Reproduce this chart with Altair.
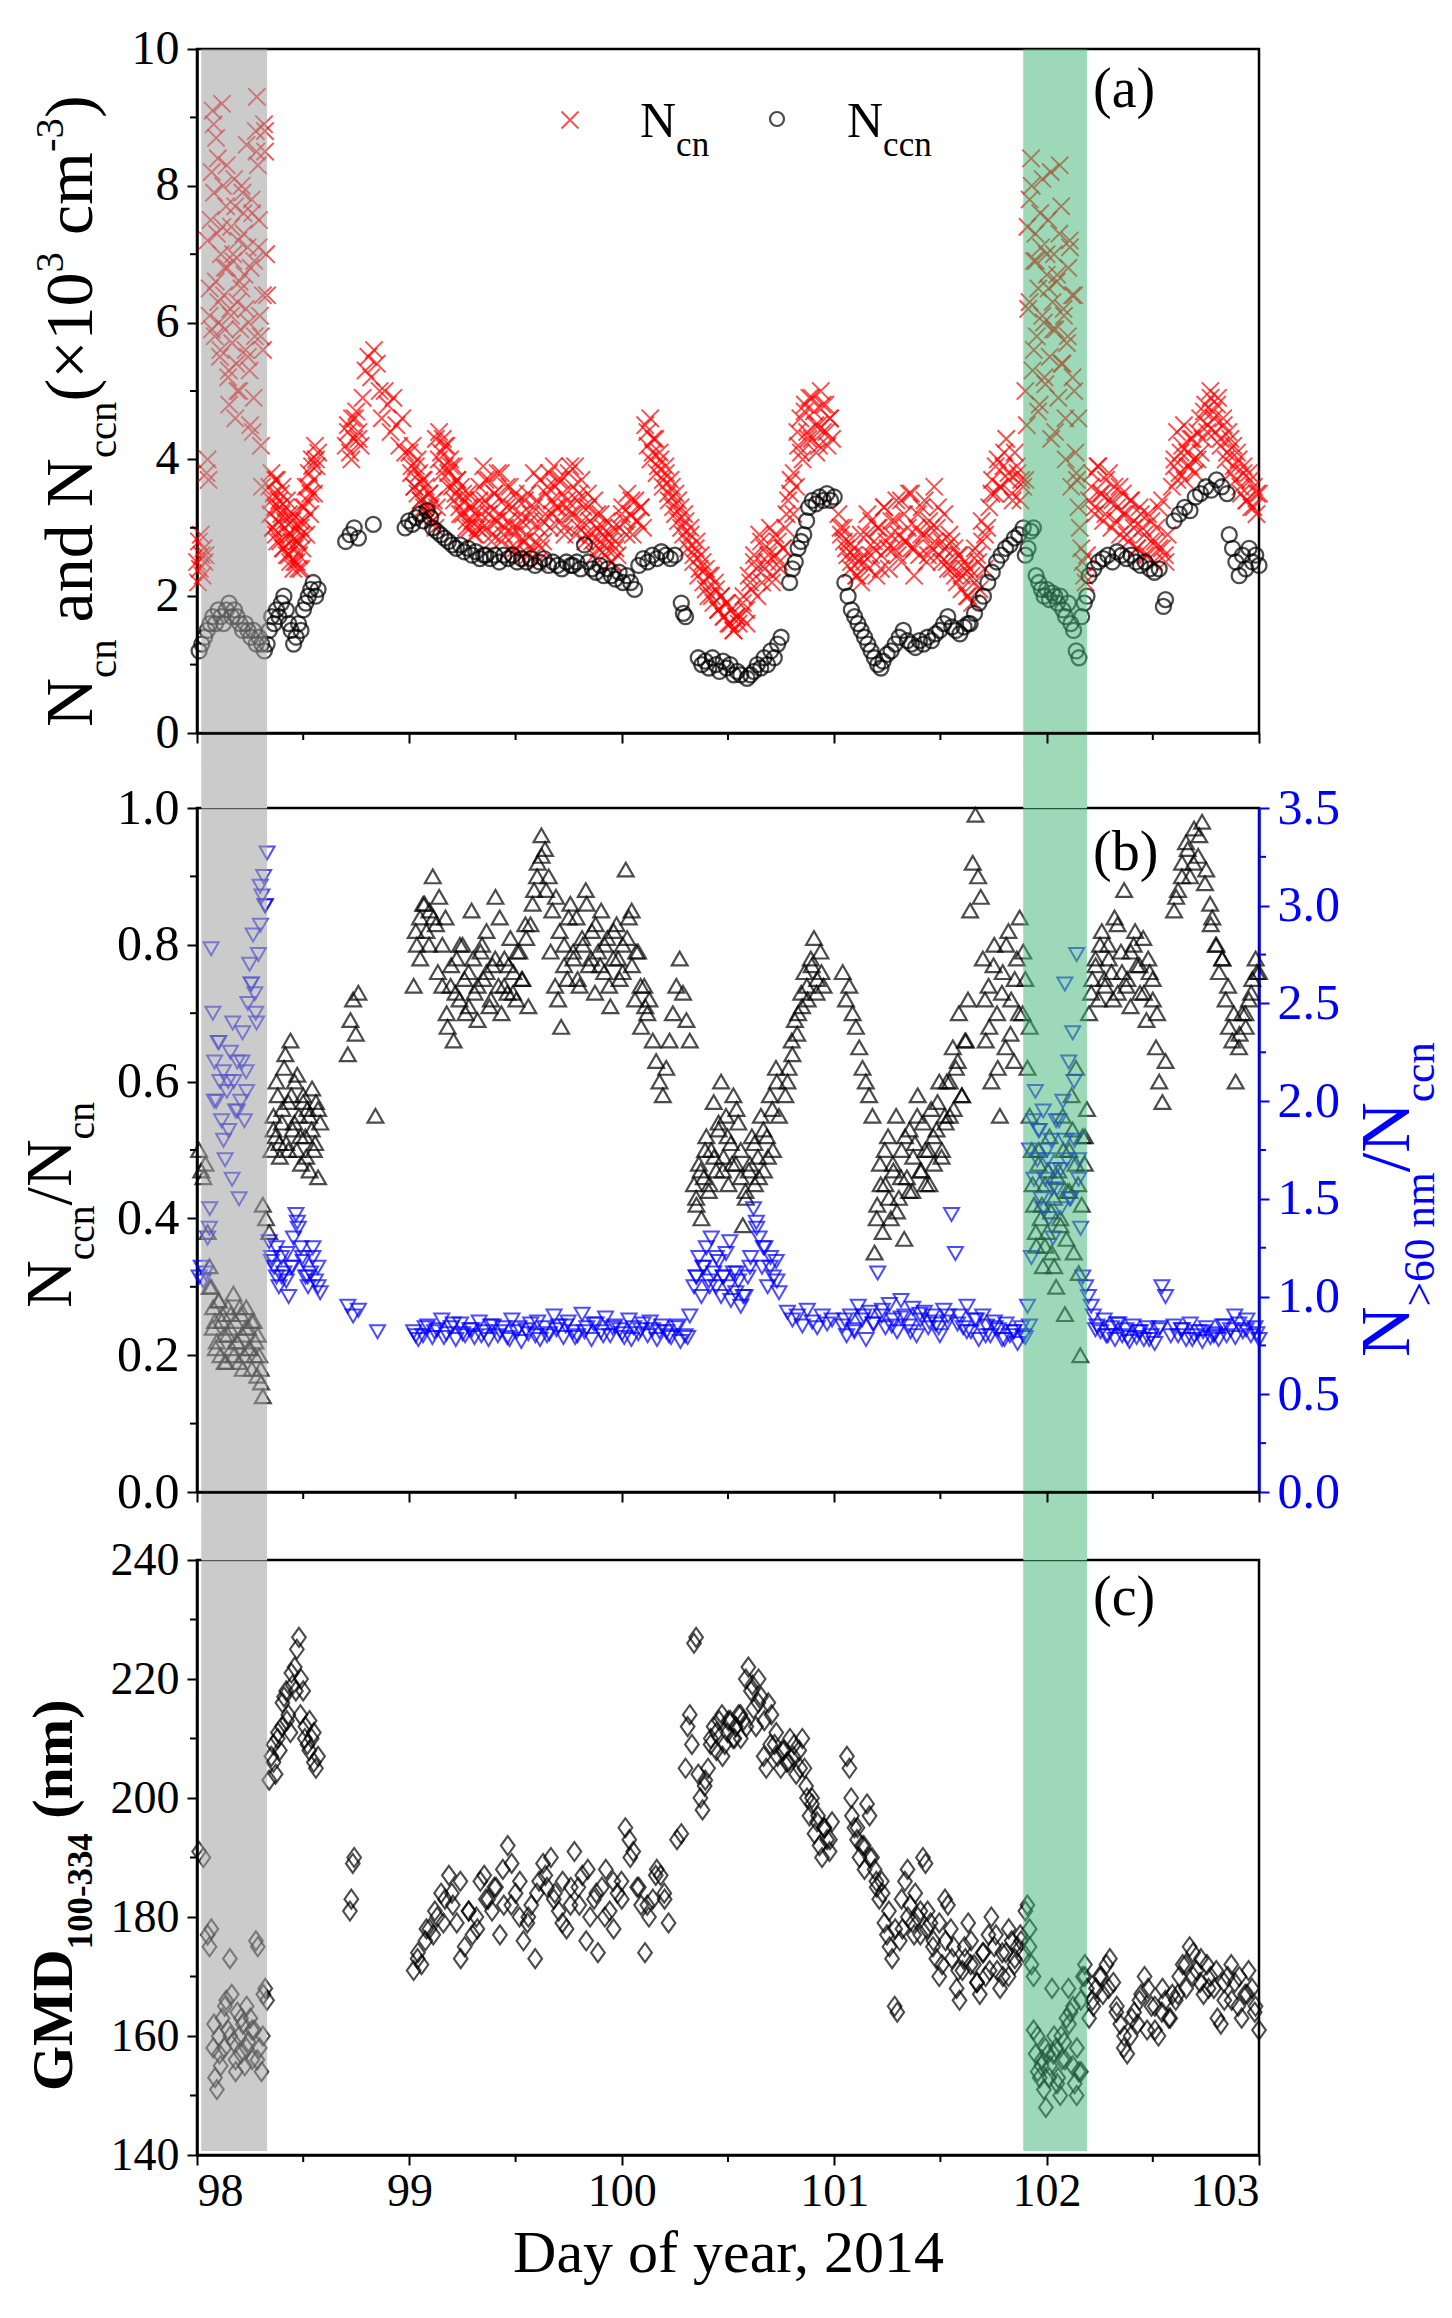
import altair as alt
import pandas as pd

# values: (first day, last day, samples evenly spaced in between)
NCN = [
    (98.00, 98.04, [2.5, 2.2, 2.8, 2.4, 2.9, 2.6, 2.3, 2.7, 2.5, 2.6]),
    (98.045, 98.33, [3.8, 4.0, 3.7, 6.1, 7.5, 8.2, 9.1, 8.9, 5.8, 6.6, 7.3, 8.4, 6.0, 5.5, 7.0, 9.2, 8.0, 6.4, 5.9, 7.7,
                     6.8, 5.2, 4.8, 6.2, 7.4, 5.7, 6.9, 8.1, 4.6, 5.4, 6.3, 7.2, 5.0, 5.9, 6.5, 7.9, 7.6, 6.7, 5.6, 8.6,
                     7.1, 6.0, 5.3, 6.8, 7.8, 4.4, 4.9, 5.8, 8.8, 9.3, 8.3, 7.5, 6.1, 4.2, 3.6, 5.6, 8.9, 8.5, 7.0, 6.4]),
    (98.05, 98.32, [7.2, 6.5, 5.9, 7.9, 8.7, 6.3, 5.6, 7.4, 6.8, 8.3, 5.3, 6.1, 7.0, 7.7, 5.0, 6.6, 8.0, 7.3, 6.2, 5.5,
                    4.5, 7.6, 6.9, 8.5, 7.1, 5.8, 6.4, 8.8]),
    (98.34, 98.49, [3.6, 3.2, 3.8, 3.0, 3.5, 3.3, 2.9, 3.7, 3.1, 3.4, 2.8, 3.2, 3.6, 2.7, 3.0, 3.3, 2.6, 2.9, 3.2, 2.5,
                    2.8, 3.1, 2.4, 2.7, 3.0, 2.5, 2.8, 2.6, 3.1, 2.4]),
    (98.49, 98.57, [2.9, 3.3, 3.1, 3.6, 3.4, 3.8, 3.5, 4.0, 3.7, 4.2, 3.9, 4.1]),
    (98.35, 98.56, [3.4, 3.0, 3.7, 2.8, 3.3, 3.5, 2.7, 3.1, 3.4, 2.6, 2.9, 3.2, 2.5, 2.8, 2.4, 3.0, 2.7, 3.3, 2.9, 3.6,
                    3.2, 3.9, 3.5, 4.0]),
    (98.70, 98.77, [4.2, 4.5, 4.1, 4.6, 4.3, 4.7, 4.4, 4.2]),
    (98.71, 98.76, [4.4, 4.0, 4.6, 4.3]),
    (98.78, 98.86, [4.9, 5.3, 5.5, 5.2, 5.6, 5.4, 5.0]),
    (98.87, 98.98, [4.6, 5.0, 4.8, 4.4, 4.9, 4.5, 4.2, 4.6, 4.1]),
    (99.00, 99.13, [4.1, 3.8, 4.2, 3.6, 3.9, 3.5, 3.8, 3.4, 3.7, 3.3, 3.6, 3.2, 3.5, 3.3, 3.1, 3.4, 3.0, 3.3]),
    (99.14, 99.32, [4.4, 4.1, 4.3, 3.9, 4.2, 3.8, 4.0, 3.6, 3.9, 3.5, 3.7, 3.3, 3.6, 3.2, 3.4, 3.1, 3.5, 3.0, 3.3, 2.9,
                    3.2, 3.0]),
    (99.01, 99.31, [3.9, 3.6, 4.0, 3.4, 3.7, 3.2, 3.5, 3.1, 4.3, 4.0, 3.8, 4.2, 3.6, 3.9, 3.4, 3.7, 3.2, 3.5, 3.0, 3.3,
                    3.1, 2.9]),
    (99.33, 99.62, [3.6, 3.2, 3.9, 3.4, 3.0, 3.7, 3.3, 2.9, 3.5, 3.1, 3.8, 3.2, 2.8, 3.4, 3.0, 3.6, 3.1, 2.7, 3.3, 2.9,
                    3.5, 3.0, 2.6, 3.2, 2.8, 3.4, 2.9, 2.6, 3.1, 2.7, 3.3, 2.8, 2.5, 3.0, 2.7]),
    (99.63, 99.98, [2.8, 3.2, 3.6, 3.0, 3.4, 3.9, 3.3, 3.7, 3.1, 3.5, 2.9, 3.3, 3.8, 3.2, 3.6, 3.9, 3.4, 3.0, 3.7, 3.3,
                    2.9, 3.5, 3.1, 2.8, 3.4, 3.0, 2.7, 3.2, 2.9, 2.6, 3.1, 2.8, 2.5, 3.0, 2.7, 2.6]),
    (99.33, 99.97, [3.4, 3.0, 3.7, 3.2, 2.8, 3.5, 3.1, 3.8, 2.9, 3.3, 3.6, 3.0, 2.7, 3.4, 3.1, 2.8, 3.5, 3.2, 3.8, 3.4,
                    3.7, 3.1, 3.5, 3.8, 3.2, 3.6, 3.3, 3.7, 3.0, 3.4, 3.9, 3.2, 2.9, 3.5, 3.1, 2.8, 3.3, 2.9, 2.6, 3.2,
                    2.8, 3.0, 2.7, 2.9, 2.5, 2.8]),
    (99.99, 100.10, [3.0, 3.3, 3.1, 3.5, 3.2, 2.9, 3.4, 3.1, 3.3, 3.0]),
    (100.00, 100.09, [3.2, 2.9, 3.4, 3.1, 3.3]),
    (100.11, 100.55, [4.5, 4.2, 4.6, 4.1, 4.3, 3.9, 4.0, 3.7, 3.9, 3.5, 3.7, 3.3, 3.5, 3.1, 3.3, 2.9, 3.1, 2.7, 2.9, 2.5,
                      2.7, 2.3, 2.6, 2.2, 2.4, 2.0, 2.3, 1.9, 2.1, 1.8, 2.0, 1.7, 1.9, 1.6, 1.8, 1.5, 1.7, 1.6]),
    (100.12, 100.54, [4.4, 4.0, 4.3, 3.8, 4.1, 3.6, 3.8, 3.4, 3.6, 3.2, 3.4, 3.0, 3.2, 2.8, 3.0, 2.6, 2.8, 2.4, 2.5, 2.1,
                      2.3, 2.0, 2.2, 1.8, 2.0, 1.7, 1.9, 1.6, 1.5, 1.7]),
    (100.56, 100.76, [1.7, 2.0, 1.8, 2.3, 2.1, 2.6, 2.4, 2.9, 2.2, 2.7, 2.5, 3.0, 2.3, 2.6, 2.8, 2.4, 2.7]),
    (100.77, 100.82, [3.0, 3.4, 3.7, 3.2, 3.6]),
    (100.83, 100.99, [4.2, 4.6, 4.0, 4.8, 4.4, 4.9, 4.3, 4.7, 4.1, 4.5, 5.0, 4.4, 4.8, 4.2, 4.6, 4.3]),
    (100.57, 100.98, [1.9, 1.6, 2.2, 2.5, 2.0, 2.8, 2.4, 2.6, 2.2, 2.9, 2.5, 2.7, 3.2, 3.5, 3.8, 4.4, 4.1, 4.7, 4.3, 4.9,
                      4.5, 4.2, 4.8, 4.4, 4.6]),
    (101.02, 101.72, [3.2, 2.9, 3.0, 2.7, 2.8, 2.5, 2.6, 2.3, 2.5, 2.2, 2.6, 2.9, 2.4, 3.1, 2.7, 2.3, 3.0, 2.6, 3.3, 2.8,
                      2.4, 3.1, 2.7, 3.4, 2.9, 2.5, 3.2, 2.8, 3.5, 2.7, 2.3, 3.0, 2.6, 3.3, 2.9, 2.5, 3.1, 2.7, 3.6, 3.0,
                      2.6, 2.8, 3.2, 2.5, 2.9, 2.4, 2.7, 2.2, 2.6, 2.3, 2.5, 2.0, 2.4, 1.9, 2.2, 2.6, 2.1, 2.8, 2.4, 3.0]),
    (101.03, 101.71, [3.0, 2.8, 2.6, 2.4, 2.7, 2.3, 2.9, 2.5, 3.2, 2.6, 2.8, 3.0, 2.4, 3.3, 2.7, 2.9, 3.1, 2.6, 3.4, 2.8,
                      3.0, 3.5, 2.7, 3.2, 2.9, 3.4, 2.6, 3.0, 2.8, 3.3, 2.5, 2.7, 2.4, 2.8, 2.3, 2.6, 2.1, 2.4, 2.0, 2.3,
                      2.7, 2.5, 3.1, 2.9]),
    (101.73, 101.89, [3.3, 3.7, 3.5, 4.0, 3.6, 3.9, 4.3, 3.7, 3.5, 4.1, 3.8, 3.4, 3.6]),
    (101.74, 101.88, [3.5, 3.9, 3.6, 4.1, 3.8, 3.4, 3.9, 3.7]),
    (101.90, 102.19, [3.7, 4.5, 6.2, 7.8, 8.4, 5.3, 6.9, 7.3, 5.8, 6.5, 4.8, 7.1, 8.1, 6.0, 5.1, 6.7, 7.5, 5.5, 4.3, 6.3,
                      7.0, 5.9, 6.6, 4.9, 8.3, 7.7, 5.4, 6.1, 4.6, 5.7, 6.8, 7.2, 3.6, 5.2, 6.4, 4.1, 3.7, 3.3, 3.0, 2.7,
                      2.5, 2.3, 2.2, 2.6]),
    (101.90, 102.15, [5.0, 7.4, 6.3, 8.0, 5.6, 6.9, 4.7, 7.6, 6.1, 5.2, 7.0, 6.5, 8.2, 5.9, 4.4, 6.7, 7.3, 5.4, 6.2, 4.0,
                      5.8, 7.1, 6.4, 5.0, 3.8, 4.6]),
    (102.20, 102.57, [3.4, 3.8, 3.2, 3.9, 3.5, 3.1, 3.7, 3.4, 3.0, 3.6, 3.3, 2.9, 3.5, 3.2, 2.8, 3.4, 3.1, 2.7, 3.3, 3.0,
                      2.6, 3.2, 2.8, 2.5, 3.0, 2.7, 3.4, 2.6, 2.9]),
    (102.21, 102.56, [3.6, 3.3, 3.9, 3.5, 3.2, 3.8, 3.4, 3.1, 3.6, 3.2, 2.9, 3.4, 3.0, 2.7, 3.2, 2.9, 2.6, 3.1, 2.8, 3.3,
                      2.7, 2.5]),
    (102.59, 103.00, [3.6, 4.0, 4.4, 3.8, 4.2, 3.7, 4.1, 3.9, 4.3, 3.8, 4.0, 4.6, 4.3, 4.8, 4.5, 5.0, 4.7, 4.4, 4.9, 4.2,
                      4.6, 4.0, 4.4, 3.8, 4.2, 3.7, 4.0, 3.5, 3.9, 3.4, 3.8, 3.3, 3.6, 3.2, 3.5]),
    (102.60, 102.99, [3.9, 3.7, 4.1, 4.5, 3.9, 4.3, 4.0, 4.4, 4.1, 4.7, 4.4, 4.9, 4.6, 4.8, 4.3, 4.5, 4.1, 4.3, 3.9, 4.1,
                      3.6, 3.8, 3.4, 3.7, 3.3, 3.5]),
]

NCCN = [
    (98.01, 98.33, [1.2, 1.3, 1.4, 1.5, 1.6, 1.7, 1.6, 1.8, 1.7, 1.6, 1.8, 1.9, 1.7, 1.8, 1.7, 1.6, 1.5, 1.6, 1.5, 1.4,
                    1.5, 1.3, 1.4, 1.3, 1.2, 1.3]),
    (98.34, 98.57, [1.5, 1.7, 1.6, 1.8, 1.7, 1.9, 2.0, 1.8, 1.6, 1.5, 1.3, 1.4, 1.6, 1.5, 1.8, 1.9, 2.0, 2.1, 2.2, 2.0,
                    2.1]),
    (98.70, 98.76, [2.8, 2.9, 3.0, 2.85]),
    (98.83, 98.83, [3.05]),
    (98.98, 99.10, [3.0, 3.1, 3.05, 3.15, 3.2, 3.1, 3.25, 3.15]),
    (99.11, 99.35, [3.0, 2.95, 2.9, 2.85, 2.8, 2.75, 2.7, 2.75, 2.65, 2.7, 2.6, 2.65, 2.55, 2.6]),
    (99.36, 99.76, [2.6, 2.55, 2.6, 2.5, 2.6, 2.55, 2.6, 2.5, 2.55, 2.5, 2.55, 2.45, 2.5, 2.55, 2.45, 2.5, 2.45, 2.4,
                    2.5, 2.45]),
    (99.77, 100.06, [2.45, 2.5, 2.4, 2.75, 2.5, 2.4, 2.35, 2.45, 2.3, 2.4, 2.3, 2.25, 2.35, 2.2, 2.3, 2.2, 2.1]),
    (100.08, 100.25, [2.45, 2.55, 2.5, 2.6, 2.55, 2.65, 2.6, 2.55, 2.6]),
    (100.28, 100.30, [1.9, 1.75, 1.7]),
    (100.36, 100.56, [1.1, 1.0, 1.05, 0.95, 1.1, 1.0, 0.9, 1.05, 0.95, 1.0, 0.85, 0.9, 0.85]),
    (100.59, 100.75, [0.8, 0.85, 0.9, 1.0, 0.95, 1.1, 1.0, 1.2, 1.1, 1.3, 1.4]),
    (100.79, 100.87, [2.2, 2.4, 2.5, 2.7, 2.8, 2.9, 3.1]),
    (100.88, 101.00, [3.3, 3.4, 3.35, 3.45, 3.4, 3.5, 3.4, 3.45]),
    (101.05, 101.22, [2.2, 2.0, 1.8, 1.7, 1.6, 1.5, 1.4, 1.3, 1.2, 1.1, 1.0, 0.95]),
    (101.23, 101.63, [1.05, 1.15, 1.2, 1.3, 1.4, 1.5, 1.35, 1.3, 1.25, 1.35, 1.3, 1.4, 1.35, 1.45, 1.5, 1.6, 1.7, 1.55,
                      1.5, 1.45, 1.55, 1.6]),
    (101.64, 101.89, [1.6, 1.75, 1.9, 2.0, 2.2, 2.35, 2.5, 2.6, 2.7, 2.75, 2.85, 2.9, 3.0]),
    (101.90, 102.19, [2.6, 2.7, 2.95, 3.0, 2.3, 2.2, 2.1, 2.0, 2.1, 1.95, 2.05, 2.0, 1.9, 2.0, 1.8, 1.7, 1.9, 1.6, 1.5,
                      1.2, 1.1, 1.7, 1.9, 2.0]),
    (102.20, 102.53, [2.3, 2.4, 2.5, 2.55, 2.6, 2.5, 2.65, 2.6, 2.55, 2.6, 2.5, 2.45, 2.5, 2.4, 2.35, 2.4]),
    (102.55, 102.56, [1.85, 1.95]),
    (102.60, 102.85, [3.1, 3.2, 3.3, 3.25, 3.45, 3.5, 3.6, 3.55, 3.7, 3.6, 3.5]),
    (102.86, 103.00, [2.9, 2.7, 2.5, 2.3, 2.6, 2.4, 2.7, 2.5, 2.6, 2.45]),
]

RATIO = [
    (98.01, 98.04, [0.5, 0.47, 0.46, 0.48]),
    (98.05, 98.31, [0.38, 0.33, 0.3, 0.27, 0.25, 0.22, 0.28, 0.2, 0.26, 0.23, 0.19, 0.27, 0.24, 0.21, 0.29, 0.25, 0.22,
                    0.19, 0.26, 0.23, 0.2, 0.27, 0.24, 0.21, 0.18, 0.25, 0.22, 0.17, 0.2, 0.16, 0.14]),
    (98.06, 98.30, [0.3, 0.24, 0.21, 0.28, 0.25, 0.19, 0.23, 0.26, 0.2, 0.22, 0.27, 0.18, 0.24, 0.21, 0.25, 0.2, 0.23,
                    0.18]),
    (98.31, 98.34, [0.42, 0.4, 0.38]),
    (98.35, 98.58, [0.5, 0.55, 0.52, 0.58, 0.49, 0.54, 0.62, 0.51, 0.57, 0.66, 0.53, 0.6, 0.5, 0.55, 0.48, 0.58, 0.52,
                    0.56, 0.47, 0.53, 0.5, 0.57, 0.46, 0.54]),
    (98.36, 98.57, [0.53, 0.6, 0.51, 0.56, 0.64, 0.5, 0.58, 0.54, 0.61, 0.52, 0.57, 0.49, 0.55, 0.59, 0.51, 0.56]),
    (98.71, 98.76, [0.64, 0.69, 0.72, 0.67, 0.73]),
    (98.84, 98.84, [0.55]),
    (99.02, 99.17, [0.74, 0.8, 0.84, 0.86, 0.82, 0.85, 0.9, 0.83, 0.87, 0.8, 0.84]),
    (99.18, 99.56, [0.68, 0.74, 0.66, 0.78, 0.72, 0.8, 0.7, 0.76, 0.85, 0.73, 0.69, 0.79, 0.75, 0.82, 0.71, 0.77, 0.87,
                    0.74, 0.7, 0.78, 0.73, 0.81, 0.76, 0.72, 0.79, 0.75, 0.83, 0.71]),
    (99.03, 99.55, [0.82, 0.78, 0.86, 0.8, 0.84, 0.76, 0.74, 0.7, 0.77, 0.73, 0.8, 0.75, 0.71, 0.78, 0.74, 0.8, 0.76,
                    0.72, 0.78, 0.84, 0.74, 0.77, 0.73, 0.79, 0.75, 0.81]),
    (99.57, 99.69, [0.83, 0.88, 0.92, 0.96, 0.94, 0.9, 0.85, 0.87]),
    (99.70, 100.12, [0.72, 0.68, 0.8, 0.75, 0.86, 0.78, 0.84, 0.74, 0.8, 0.88, 0.77, 0.82, 0.73, 0.79, 0.85, 0.76, 0.81,
                     0.71, 0.78, 0.83, 0.75, 0.8, 0.91, 0.84, 0.77, 0.72, 0.79, 0.68, 0.74, 0.7]),
    (99.58, 100.11, [0.86, 0.9, 0.93, 0.88, 0.79, 0.74, 0.82, 0.77, 0.84, 0.79, 0.75, 0.81, 0.86, 0.78, 0.83, 0.77, 0.8,
                     0.74, 0.82, 0.78, 0.76, 0.81, 0.85, 0.79, 0.74, 0.71]),
    (100.13, 100.32, [0.72, 0.66, 0.63, 0.6, 0.58, 0.62, 0.66, 0.7, 0.74, 0.78, 0.73, 0.69, 0.66]),
    (100.34, 100.56, [0.45, 0.42, 0.48, 0.4, 0.46, 0.52, 0.44, 0.5, 0.57, 0.47, 0.53, 0.6, 0.49, 0.55, 0.45, 0.51, 0.58,
                      0.48, 0.54, 0.5]),
    (100.57, 100.74, [0.39, 0.43, 0.47, 0.52, 0.45, 0.49, 0.55, 0.47, 0.52, 0.58, 0.5, 0.62, 0.55]),
    (100.35, 100.73, [0.43, 0.47, 0.5, 0.45, 0.49, 0.54, 0.47, 0.52, 0.48, 0.56, 0.46, 0.44, 0.48, 0.51, 0.46, 0.53,
                      0.49, 0.56, 0.6]),
    (100.77, 100.95, [0.58, 0.62, 0.66, 0.69, 0.7, 0.73, 0.76, 0.72, 0.78, 0.81, 0.75, 0.79, 0.74]),
    (100.78, 100.94, [0.6, 0.64, 0.67, 0.71, 0.74, 0.77, 0.73, 0.76]),
    (101.04, 101.18, [0.76, 0.72, 0.74, 0.7, 0.68, 0.65, 0.62, 0.6, 0.58, 0.55]),
    (101.19, 101.52, [0.35, 0.42, 0.48, 0.38, 0.45, 0.52, 0.4, 0.47, 0.55, 0.43, 0.5, 0.37, 0.46, 0.53, 0.44, 0.51, 0.58,
                      0.47, 0.54, 0.45, 0.5, 0.56, 0.48, 0.53, 0.6, 0.5, 0.55]),
    (101.20, 101.62, [0.4, 0.45, 0.5, 0.43, 0.48, 0.41, 0.46, 0.52, 0.44, 0.49, 0.55, 0.47, 0.5, 0.45, 0.52, 0.57, 0.49,
                      0.54, 0.6, 0.56, 0.63, 0.58, 0.66]),
    (101.53, 101.63, [0.6, 0.55, 0.65, 0.62, 0.7, 0.58, 0.66, 0.72]),
    (101.64, 101.69, [0.85, 0.92, 0.99, 0.9, 0.87]),
    (101.70, 101.90, [0.78, 0.66, 0.74, 0.6, 0.8, 0.7, 0.55, 0.76, 0.65, 0.82, 0.72, 0.63, 0.78, 0.84, 0.7, 0.75]),
    (101.71, 101.89, [0.72, 0.68, 0.77, 0.62, 0.73, 0.8, 0.67, 0.75, 0.7, 0.79]),
    (101.91, 102.19, [0.62, 0.68, 0.5, 0.42, 0.36, 0.48, 0.4, 0.33, 0.45, 0.38, 0.52, 0.35, 0.43, 0.3, 0.47, 0.39, 0.55,
                      0.26, 0.44, 0.5, 0.58, 0.35, 0.62, 0.45, 0.2, 0.52, 0.48, 0.56]),
    (101.92, 102.18, [0.55, 0.45, 0.38, 0.5, 0.42, 0.36, 0.47, 0.41, 0.33, 0.46, 0.4, 0.5, 0.37, 0.44, 0.53, 0.48, 0.32,
                      0.42, 0.52]),
    (102.20, 102.56, [0.7, 0.75, 0.78, 0.72, 0.82, 0.74, 0.8, 0.76, 0.84, 0.73, 0.79, 0.88, 0.75, 0.71, 0.8, 0.77, 0.73,
                      0.81, 0.69, 0.76, 0.72, 0.65, 0.6, 0.57, 0.63]),
    (102.21, 102.52, [0.73, 0.77, 0.8, 0.75, 0.78, 0.72, 0.83, 0.76, 0.74, 0.79, 0.82, 0.77, 0.73, 0.78, 0.75, 0.7]),
    (102.60, 102.77, [0.85, 0.88, 0.92, 0.95, 0.9, 0.97, 0.93, 0.98, 0.91, 0.86]),
    (102.78, 103.00, [0.84, 0.8, 0.76, 0.78, 0.72, 0.68, 0.66, 0.6, 0.65, 0.7, 0.68, 0.72, 0.75, 0.78, 0.76]),
    (102.61, 102.99, [0.87, 0.9, 0.94, 0.92, 0.96, 0.89, 0.83, 0.8, 0.78, 0.74, 0.7, 0.67, 0.7, 0.73, 0.76]),
]

RATIO60 = [
    (98.01, 98.04, [1.1, 1.15, 1.08, 1.12]),
    (98.05, 98.33, [1.3, 1.35, 2.78, 2.45, 2.2, 2.0, 2.3, 2.1, 1.9, 2.15, 1.7, 2.05, 1.85, 2.25, 1.6, 2.1, 1.95, 2.2,
                    1.5, 2.0, 2.35, 1.9, 2.15, 2.5, 2.7, 2.6, 2.85, 2.55, 2.4, 2.75, 3.1, 3.05, 3.15, 3.0, 3.27]),
    (98.06, 98.32, [1.45, 2.0, 2.3, 1.8, 2.1, 2.4, 1.95, 2.2, 2.05, 2.6, 2.45, 2.9, 3.0]),
    (98.34, 98.58, [1.28, 1.2, 1.15, 1.1, 1.05, 1.2, 1.12, 1.08, 1.0, 1.15, 1.3, 1.42, 1.35, 1.25, 1.18, 1.1, 1.05,
                    1.12, 1.2, 1.08, 1.15, 1.02]),
    (98.35, 98.57, [1.18, 1.25, 1.1, 1.22, 1.15, 1.38, 1.2, 1.1, 1.25, 1.05]),
    (98.71, 98.76, [0.95, 0.9, 0.93]),
    (98.85, 98.85, [0.82]),
    (99.02, 100.32, [0.82, 0.78, 0.8, 0.85, 0.79, 0.83, 0.88, 0.81, 0.84, 0.78, 0.86, 0.8, 0.83, 0.79, 0.87, 0.82, 0.78,
                     0.85, 0.8, 0.84, 0.79, 0.88, 0.82, 0.77, 0.83, 0.86, 0.8, 0.78, 0.84, 0.81, 0.9, 0.85, 0.79, 0.87,
                     0.82, 0.8, 0.91, 0.84, 0.78, 0.86, 0.82, 0.89, 0.8, 0.85, 0.83, 0.79, 0.88, 0.84, 0.81, 0.86, 0.8,
                     0.83, 0.78, 0.85, 0.82, 0.79, 0.84, 0.77, 0.8, 0.9]),
    (99.03, 100.31, [0.8, 0.84, 0.82, 0.79, 0.86, 0.81, 0.83, 0.8, 0.85, 0.82, 0.78, 0.84, 0.81, 0.87, 0.8, 0.83, 0.85,
                     0.79, 0.82, 0.86, 0.8, 0.84, 0.81, 0.78, 0.83, 0.87, 0.82, 0.8, 0.85, 0.79]),
    (100.34, 100.56, [1.05, 1.1, 1.2, 1.0, 1.15, 1.25, 1.08, 1.3, 1.12, 1.05, 1.18, 1.0, 1.1, 1.22, 1.05, 0.98, 1.12,
                      1.02, 1.08, 0.95]),
    (100.58, 100.74, [1.0, 1.1, 1.2, 1.45, 1.38, 1.3, 1.15, 1.25, 1.05, 1.2, 1.1, 1.18, 1.02]),
    (100.35, 100.73, [1.1, 1.15, 1.05, 1.2, 1.1, 1.28, 1.12, 1.0, 1.15, 1.35, 1.25, 1.15, 1.08]),
    (100.78, 100.99, [0.92, 0.88, 0.9, 0.85, 0.93, 0.87, 0.84, 0.9, 0.86, 0.88]),
    (101.04, 101.90, [0.85, 0.8, 0.9, 0.82, 0.95, 0.88, 0.78, 0.92, 0.86, 1.12, 0.9, 0.84, 0.96, 0.88, 0.82, 0.98, 0.9,
                      0.85, 0.94, 0.8, 0.88, 0.92, 0.84, 0.9, 0.86, 0.8, 0.93, 0.87, 1.42, 1.22, 0.9, 0.84, 0.95, 0.82,
                      0.88, 0.78, 0.9, 0.85, 0.8, 0.87, 0.83, 0.78, 0.86, 0.8, 0.82, 0.76, 0.84, 0.79]),
    (101.05, 101.89, [0.88, 0.83, 0.9, 0.86, 0.93, 0.85, 0.89, 0.82, 0.91, 0.87, 0.84, 0.9, 0.86, 0.82, 0.88, 0.8, 0.84,
                      0.78, 0.82, 0.8]),
    (101.91, 102.16, [0.95, 0.85, 1.2, 1.9, 2.05, 1.7, 1.85, 1.5, 1.95, 1.6, 1.75, 1.4, 1.8, 1.3, 1.65, 1.55, 1.9, 1.45,
                      2.0, 2.6, 1.7, 2.2, 1.5, 2.35, 1.8, 2.75, 1.6, 1.35]),
    (101.92, 102.15, [1.75, 1.6, 1.85, 1.45, 1.7, 1.55, 1.9, 1.65, 1.8, 1.5, 2.1, 1.7]),
    (102.17, 102.21, [1.1, 1.05, 1.0, 0.95]),
    (102.22, 102.56, [0.9, 0.85, 0.82, 0.88, 0.8, 0.84, 0.78, 0.86, 0.8, 0.83, 0.77, 0.85, 0.79, 0.82, 0.78, 0.84, 0.8,
                      0.76, 0.83, 1.05, 1.0]),
    (102.60, 103.00, [0.85, 0.8, 0.83, 0.78, 0.86, 0.8, 0.82, 0.77, 0.84, 0.79, 0.81, 0.78, 0.85, 0.8, 0.83, 0.9, 0.86,
                      0.82, 0.88, 0.8, 0.84, 0.78]),
    (102.23, 102.99, [0.83, 0.8, 0.86, 0.79, 0.82, 0.78, 0.84, 0.8, 0.83, 0.78, 0.82, 0.8, 0.85, 0.79, 0.83, 0.81]),
]

GMD = [
    (98.01, 98.03, [191, 190]),
    (98.05, 98.33, [177, 175, 178, 158, 153, 151, 160, 155, 163, 158, 166, 161, 173, 167, 159, 156, 164, 160, 157, 162,
                    155, 165, 159, 163, 156, 161, 176, 175, 158, 154, 167, 168, 166]),
    (98.08, 98.31, [162, 157, 165, 160, 154, 163, 158, 161, 156, 160]),
    (98.34, 98.57, [203, 207, 209, 204, 210, 208, 212, 217, 218, 214, 211, 219, 222, 225, 227, 220, 218, 212, 209, 213,
                    210, 206, 205, 207]),
    (98.36, 98.55, [206, 211, 216, 213, 221, 218, 214, 210, 208, 211]),
    (98.72, 98.74, [181, 183, 189, 190]),
    (99.02, 100.22, [171, 173, 172, 176, 178, 177, 180, 184, 183, 187, 182, 179, 173, 175, 181, 177, 180, 186, 187, 183,
                     181, 185, 177, 182, 192, 189, 184, 180, 176, 179, 182, 173, 186, 189, 185, 190, 184, 181, 186, 178,
                     182, 191, 185, 187, 176, 180, 183, 174, 185, 188, 181, 178, 184, 186, 195, 193, 191, 185, 182, 174,
                     180, 183, 188, 187, 183, 179]),
    (99.04, 100.20, [174, 178, 181, 179, 184, 186, 181, 178, 183, 185, 188, 182, 186, 180, 184, 187, 183, 179, 185, 182,
                     188, 184, 180, 186, 183, 190, 185, 182, 187, 184]),
    (100.26, 100.28, [193, 194]),
    (100.30, 100.37, [205, 212, 214, 209, 226, 227, 204, 200]),
    (100.38, 100.55, [198, 203, 205, 210, 212, 208, 213, 214, 209, 211, 213, 210, 212, 214]),
    (100.56, 100.68, [210, 213, 220, 222, 218, 215, 212, 220, 217, 207, 205]),
    (100.69, 100.85, [216, 214, 209, 207, 205, 208, 206, 210, 207, 204, 208, 210]),
    (100.86, 100.99, [205, 200, 197, 199, 194, 196, 192, 190, 195, 193, 191, 196]),
    (100.39, 100.98, [202, 209, 211, 207, 213, 210, 214, 212, 219, 216, 213, 209, 211, 208, 206, 209, 205, 202, 200, 197,
                      195, 193]),
    (101.06, 101.19, [207, 205, 197, 195, 193, 190, 192, 188, 199, 197, 190, 188]),
    (101.20, 101.43, [185, 183, 186, 179, 177, 175, 173, 165, 164, 176, 178, 186, 188, 182, 179, 184, 180, 177, 190,
                      189]),
    (101.44, 101.89, [181, 179, 176, 173, 170, 172, 183, 182, 178, 175, 168, 166, 171, 173, 179, 176, 172, 169, 167, 174,
                      170, 177, 180, 175, 171, 168, 170, 174, 178, 176, 172, 175, 177, 174]),
    (101.08, 101.88, [200, 195, 192, 190, 186, 184, 181, 178, 183, 180, 177, 181, 178, 175, 179, 176, 173, 171, 175, 172,
                      169, 174, 171, 177, 174, 170, 173, 176]),
    (101.90, 102.19, [181, 182, 175, 172, 161, 157, 154, 153, 156, 151, 148, 157, 155, 168, 160, 158, 153, 150, 156, 159,
                      163, 168, 164, 155, 152, 150, 154, 166, 170, 172, 168]),
    (101.92, 102.18, [178, 170, 160, 155, 158, 153, 157, 152, 160, 156, 162, 165, 158, 154, 170]),
    (102.20, 103.00, [163, 166, 168, 170, 167, 172, 173, 169, 165, 162, 158, 157, 160, 164, 162, 167, 170, 168, 165, 161,
                      160, 164, 166, 163, 167, 166, 170, 172, 168, 175, 174, 171, 169, 167, 172, 170, 168, 163, 162, 166,
                      170, 172, 169, 165, 163, 167, 171, 168, 165, 161]),
    (102.22, 102.98, [165, 170, 168, 164, 160, 163, 166, 161, 165, 168, 163, 167, 172, 170, 173, 168, 171, 169, 166, 170,
                      167, 164]),
]

BAND_START = [98.02, 101.89]
BAND_END = [98.33, 102.19]
BAND_COLOR = ["#a0a0a0", "#3cb371"]
BAND_OPACITY = [0.55, 0.5]
BAND_FLAT = ["#cbcbcb", "#9ed9b8"]  # the same shades on white, for the strips between panels

DAYS = [98, 99, 100, 101, 102, 103]
DAYS_MINOR = [98.5, 99.5, 100.5, 101.5, 102.5]
TICKS_A = [0, 2, 4, 6, 8, 10]
MINOR_A = [1, 3, 5, 7, 9]
TICKS_B = [0.0, 0.2, 0.4, 0.6, 0.8, 1.0]
MINOR_B = [0.1, 0.3, 0.5, 0.7, 0.9]
TICKS_B2 = [0.0, 0.5, 1.0, 1.5, 2.0, 2.5, 3.0, 3.5]
MINOR_B2 = [0.25, 0.75, 1.25, 1.75, 2.25, 2.75, 3.25]
TICKS_C = [140, 160, 180, 200, 220, 240]
MINOR_C = [150, 170, 190, 210, 230]

FONT = "Liberation Serif"
W, HA, HB, HC = 1062, 684, 684, 595
GAP_TOP = 45  # band overhang above panels (b) and (c)
XPATH = "M-1,-1L1,1M-1,1L1,-1"
DIAMOND = "M0,-1L0.72,0L0,1L-0.72,0Z"
ONE = pd.DataFrame({"k": [0]})

# Times / Liberation Serif advance widths (1/1000 em)
WIDTHS = {" ": 250, "(": 333, ")": 333, "×": 564, "-": 333, "/": 278, ">": 564, "N": 722, "G": 722,
          "M": 889, "D": 722, "a": 444, "c": 444, "d": 500, "m": 778, "n": 500}
WIDTHS_BOLD = {" ": 250, "(": 333, ")": 333, "-": 333, "G": 778, "M": 944, "D": 722, "m": 833, "n": 556}


def expand(segments):
    rows = []
    for t0, t1, vals in segments:
        n = len(vals)
        for i, v in enumerate(vals):
            t = t0 if n == 1 else t0 + (t1 - t0) * i / (n - 1)
            rows.append({"day": t, "v": v})
    return pd.DataFrame(rows)


def text_width(s, size, bold):
    table = WIDTHS_BOLD if bold else WIDTHS
    return sum(table.get(ch, WIDTHS.get(ch, 500)) for ch in s) / 1000 * size


def rich_text(pieces, x0, y0, size, color="black", bold=False, vertical=True, ratio=0.6, sub=0.35):
    # text with sub/superscripts, built piece by piece
    layers = []
    pos = 0.0
    for txt, kind in pieces:
        fs = size if kind == "" else size * ratio
        shift = {"": 0.0, "sub": sub * size, "sup": -0.42 * size}[kind]
        stripped = txt.lstrip(" ")
        pos += text_width(txt[:len(txt) - len(stripped)], fs, bold)
        if vertical:
            x, y, angle = x0 + shift, y0 - pos, 270
        else:
            x, y, angle = x0 + pos, y0 + shift, 0
        layers.append(
            alt.Chart(ONE).mark_text(text=stripped, font=FONT, fontSize=fs, fontWeight="bold" if bold else "normal",
                                     color=color, angle=angle, align="left", baseline="alphabetic")
            .encode(x=alt.value(x), y=alt.value(y))
        )
        pos += text_width(stripped, fs, bold)
    return layers


xscale = alt.Scale(domain=[98, 103], nice=False, zero=False)


def x_axis(labels):
    if labels:
        return alt.Axis(values=DAYS, format="d", title="Day of year, 2014", titleFont=FONT, titleFontSize=60,
                        titleFontWeight="normal", titleColor="black", titlePadding=10, labelPadding=4,
                        labelFontSize=46, zindex=1)
    return alt.Axis(values=DAYS, labels=False, title=None, zindex=1)


def x_enc(labels):
    return alt.X("day:Q", scale=xscale, axis=x_axis(labels))


def bands(h, top, bottom, labels):
    # translucent inside the plot, flat shade in the gaps so the strips join without seams
    df = pd.DataFrame({"x0": BAND_START, "x1": BAND_END, "c": BAND_COLOR, "o": BAND_OPACITY, "f": BAND_FLAT})
    x = alt.X("x0:Q", scale=xscale, axis=x_axis(labels))
    out = [alt.Chart(df).mark_rect().encode(
        x=x, x2="x1", y=alt.value(max(top, 0)), y2=alt.value(min(bottom, h)),
        color=alt.Color("c:N", scale=None), opacity=alt.Opacity("o:Q", scale=None))]
    if top < 0:
        out.append(alt.Chart(df).mark_rect().encode(
            x=x, x2="x1", y=alt.value(top), y2=alt.value(0), color=alt.Color("f:N", scale=None)))
    if bottom > h:
        out.append(alt.Chart(df).mark_rect().encode(
            x=x, x2="x1", y=alt.value(h), y2=alt.value(bottom), color=alt.Color("f:N", scale=None)))
    return out


def x_minor(h, labels):
    return alt.Chart(pd.DataFrame({"day": DAYS_MINOR})).mark_rule(color="black", strokeWidth=2).encode(
        x=x_enc(labels), y=alt.value(h), y2=alt.value(h + 7))


def y_minor(vals, y, right=False, color="black"):
    x0, x1 = (W, W + 7) if right else (-7, 0)
    return alt.Chart(pd.DataFrame({"v": vals})).mark_rule(color=color, strokeWidth=2).encode(
        y=y, x=alt.value(x0), x2=alt.value(x1))


def anchors(top=None):
    out = [alt.Chart(ONE).mark_rule(opacity=0).encode(x=alt.value(-187), y=alt.value(0), y2=alt.value(2))]
    if top is not None:
        out.append(alt.Chart(ONE).mark_rule(opacity=0).encode(x=alt.value(0), x2=alt.value(2), y=alt.value(top)))
    return out


def letter(txt, y):
    return alt.Chart(ONE).mark_text(text=txt, font=FONT, fontSize=56, align="left", baseline="alphabetic",
                                    color="black").encode(x=alt.value(896), y=alt.value(y))


# panel (a)
ya = alt.Y("v:Q", scale=alt.Scale(domain=[0, 10], nice=False, zero=False),
           axis=alt.Axis(values=TICKS_A, format="d", title=None, labelFontSize=48))
ncn = alt.Chart(expand(NCN)).mark_point(shape=XPATH, filled=False, size=300, strokeWidth=1.9, color="red").encode(
    x=x_enc(False), y=ya)
nccn = alt.Chart(expand(NCCN)).mark_point(shape="circle", filled=False, size=225, strokeWidth=2.3,
                                          color="black").encode(x=x_enc(False), y=ya)
legend_a = [
    alt.Chart(ONE).mark_point(shape=XPATH, filled=False, size=289, strokeWidth=1.8, color="red").encode(
        x=alt.value(373), y=alt.value(71)),
    alt.Chart(ONE).mark_point(shape="circle", filled=False, size=196, strokeWidth=2.2, color="black").encode(
        x=alt.value(580), y=alt.value(70)),
] + rich_text([("N", ""), ("cn", "sub")], 443, 88, 50, vertical=False, ratio=0.7, sub=0.38) \
  + rich_text([("N", ""), ("ccn", "sub")], 650, 88, 50, vertical=False, ratio=0.7, sub=0.38)
title_a = rich_text([("N", ""), ("cn", "sub"), (" and N", ""), ("ccn", "sub"), ("(×10", ""),
                     ("3", "sup"), (" cm", ""), ("-3", "sup"), (")", "")], -105, 678, 68)
panel_a = alt.layer(
    ncn, nccn, x_minor(HA, False), y_minor(MINOR_A, ya), *bands(HA, 0, HA + 77 - GAP_TOP, False),
    *legend_a, *title_a, letter("(a)", 58), *anchors(-39)
).properties(width=W, height=HA)

# panel (b)
yb = alt.Y("v:Q", scale=alt.Scale(domain=[0, 1], nice=False, zero=False),
           axis=alt.Axis(values=TICKS_B, format=".1f", title=None, orient="left", labelFontSize=50))
yb2 = alt.Y("v:Q", scale=alt.Scale(domain=[0, 3.5], nice=False, zero=False),
            axis=alt.Axis(values=TICKS_B2, format=".1f", title=None, orient="right", domainColor="blue",
                          tickColor="blue", labelColor="blue", labelFontSize=50))
ratio = alt.Chart(expand(RATIO)).mark_point(shape="triangle-up", filled=False, size=250, strokeWidth=2.2,
                                            color="black").encode(x=x_enc(False), y=yb)
ratio60 = alt.Chart(expand(RATIO60)).mark_point(shape="triangle-down", filled=False, size=225, strokeWidth=2,
                                                color="#0000ff").encode(x=x_enc(False), y=yb2)
yb_minor = alt.Y("v:Q", scale=alt.Scale(domain=[0, 1], nice=False, zero=False), axis=None)
yb2_minor = alt.Y("v:Q", scale=alt.Scale(domain=[0, 3.5], nice=False, zero=False), axis=None)
title_b = rich_text([("N", ""), ("ccn", "sub"), ("/", ""), ("N", ""), ("cn", "sub")], -126, 500, 66)
title_b2 = rich_text([("N", ""), (">60 nm", "sub"), ("/", ""), ("N", ""), ("ccn", "sub")], W + 150, 549, 70,
                     color="#0000ff", ratio=0.62)
panel_b = alt.layer(
    ratio, ratio60, x_minor(HB, False), y_minor(MINOR_B, yb_minor),
    y_minor(MINOR_B2, yb2_minor, right=True, color="blue"), *bands(HB, -GAP_TOP, HB + 70 - GAP_TOP, False),
    *title_b, *title_b2, letter("(b)", 62), *anchors()
).resolve_scale(y="independent").properties(width=W, height=HB)

# panel (c)
yc = alt.Y("v:Q", scale=alt.Scale(domain=[140, 240], nice=False, zero=False),
           axis=alt.Axis(values=TICKS_C, format="d", title=None, labelFontSize=46))
gmd = alt.Chart(expand(GMD)).mark_point(shape=DIAMOND, filled=False, size=361, strokeWidth=2.1,
                                        color="black").encode(x=x_enc(True), y=yc)
title_c = rich_text([("GMD", ""), ("100-334", "sub"), (" (nm)", "")], -125, 531, 58, bold=True)
panel_c = alt.layer(
    gmd, x_minor(HC, True), y_minor(MINOR_C, yc), *bands(HC, -GAP_TOP, HC - 4, True),
    *title_c, letter("(c)", 55), *anchors()
).properties(width=W, height=HC)

chart = alt.vconcat(panel_a, panel_b, panel_c, spacing=-6).properties(
    padding=0, background="white"
).configure_axis(
    labelFont=FONT, labelFontSize=46, labelColor="black", domainColor="black", domainWidth=2.5,
    tickColor="black", tickWidth=2, tickSize=10, labelPadding=8, grid=False
).configure_view(stroke="black", strokeWidth=2.5)

chart.save("out.html", embed_options={"renderer": "svg", "actions": False})
